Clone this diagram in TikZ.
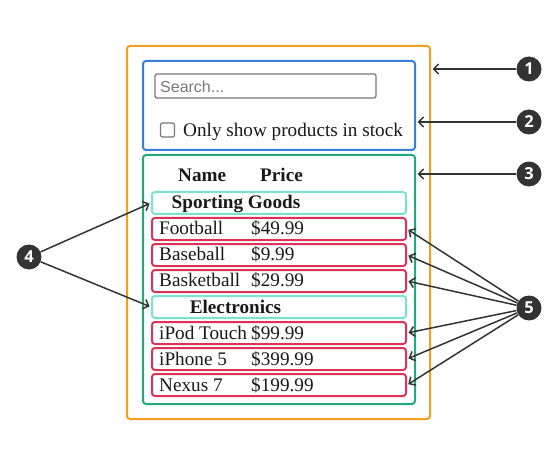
\documentclass[tikz,border=0pt]{standalone}
\usepackage{fontspec}
\setmainfont{Liberation Serif}
\setsansfont{Liberation Sans}
\newfontfamily\badgefont{Open Sans}
\usetikzlibrary{arrows.meta}

\definecolor{appOrange}{RGB}{240,160,30}
\definecolor{barBlue}{RGB}{59,125,221}
\definecolor{tableGreen}{RGB}{36,170,120}
\definecolor{catCyan}{RGB}{120,228,208}
\definecolor{rowRed}{RGB}{220,50,85}
\definecolor{inputGray}{RGB}{120,120,120}
\definecolor{badgeGray}{RGB}{51,51,51}

\begin{document}
\begin{tikzpicture}[x=1pt,y=-1pt]
    \tikzstyle{every node} = [inner sep=0pt, text=black!90, font=\fontsize{19.2}{22}\selectfont]
    \tikzstyle{frame} = [draw, rounded corners=3pt, line width=2pt]
    \tikzstyle{row} = [frame, draw=rowRed, minimum width=254pt, minimum height=22pt]
    \tikzstyle{category} = [frame, draw=catCyan, minimum width=254pt, minimum height=22pt]
    \tikzstyle{cell} = [anchor=base west]
    \tikzstyle{head} = [font=\bfseries\fontsize{19.2}{22}\selectfont]
    \tikzstyle{badge} = [circle, fill=badgeGray, text=white, minimum size=25pt, font=\badgefont\bfseries\fontsize{16.5}{16.5}\selectfont]
    \tikzstyle{pointer} = [draw=badgeGray, line width=1.5pt, shorten >=1.5pt, -{Straight Barb[length=5pt,width=10pt]}]
    \useasboundingbox (0,0) rectangle (558,452);

    % boxes
    \node[frame, draw=appOrange, minimum width=303pt, minimum height=373pt] (app) at (278.5,232.5) {};
    \node[frame, draw=barBlue, minimum width=272pt, minimum height=89pt] (searchbar) at (279,105.5) {};
    \node[draw=inputGray, line width=1.3pt, rounded corners=2pt, minimum width=221pt, minimum height=24pt] (input) at (265.5,86) {};
    \node[draw=inputGray, line width=1.2pt, rounded corners=2pt, minimum size=14pt] (checkbox) at (167.5,130) {};
    \node[frame, draw=tableGreen, minimum width=272pt, minimum height=249pt] (table) at (279,279.5) {};

    \node[cell, text=inputGray, font=\sffamily\fontsize{16}{18}\selectfont] (placeholder) at (160,93) {Search...};
    \node[cell] (stocklabel) at (183,137) {Only show products in stock};
    \node[cell, head] (namehead) at (178,182) {Name};
    \node[cell, head] (pricehead) at (260,182) {Price};

    % categories and products
    \node[category] (sporting) at (279,203) {};
    \node[head, anchor=base] (sportinglabel) at (236,208) {Sporting Goods};
    \node[row] (football) at (279,229) {};
    \node[cell] (footballname) at (159,235) {Football};
    \node[cell] (footballprice) at (251,235) {\$49.99};
    \node[row] (baseball) at (279,255) {};
    \node[cell] (baseballname) at (159,261) {Baseball};
    \node[cell] (baseballprice) at (251,261) {\$9.99};
    \node[row] (basketball) at (279,281) {};
    \node[cell] (basketballname) at (159,287) {Basketball};
    \node[cell] (basketballprice) at (251,287) {\$29.99};
    \node[category] (electronics) at (279,307) {};
    \node[head, anchor=base] (electronicslabel) at (235.5,313) {Electronics};
    \node[row] (ipod) at (279,333) {};
    \node[cell] (ipodname) at (159,339) {iPod Touch};
    \node[cell] (ipodprice) at (251,339) {\$99.99};
    \node[row] (iphone) at (279,359) {};
    \node[cell] (iphonename) at (159,365) {iPhone 5};
    \node[cell] (iphoneprice) at (251,365) {\$399.99};
    \node[row] (nexus) at (279,385) {};
    \node[cell] (nexusname) at (159,391) {Nexus 7};
    \node[cell] (nexusprice) at (251,391) {\$199.99};

    % badges
    \node[badge] (one) at (529,69) {1};
    \node[badge] (two) at (529,122) {2};
    \node[badge] (three) at (529,174) {3};
    \node[badge] (four) at (29,257) {4};
    \node[badge] (five) at (529,308) {5};

    \draw [pointer] (one.west) -- (one -| app.east);
    \draw [pointer] (two.west) -- (two -| searchbar.east);
    \draw [pointer] (three.west) -- (three -| table.east);
    \draw [pointer] (four) -- (sporting.west);
    \draw [pointer] (four) -- (electronics.west);
    \draw [pointer] (five) -- (football.east);
    \draw [pointer] (five) -- (baseball.east);
    \draw [pointer] (five) -- (basketball.east);
    \draw [pointer] (five) -- (ipod.east);
    \draw [pointer] (five) -- (iphone.east);
    \draw [pointer] (five) -- (nexus.east);
\end{tikzpicture}
\end{document}
